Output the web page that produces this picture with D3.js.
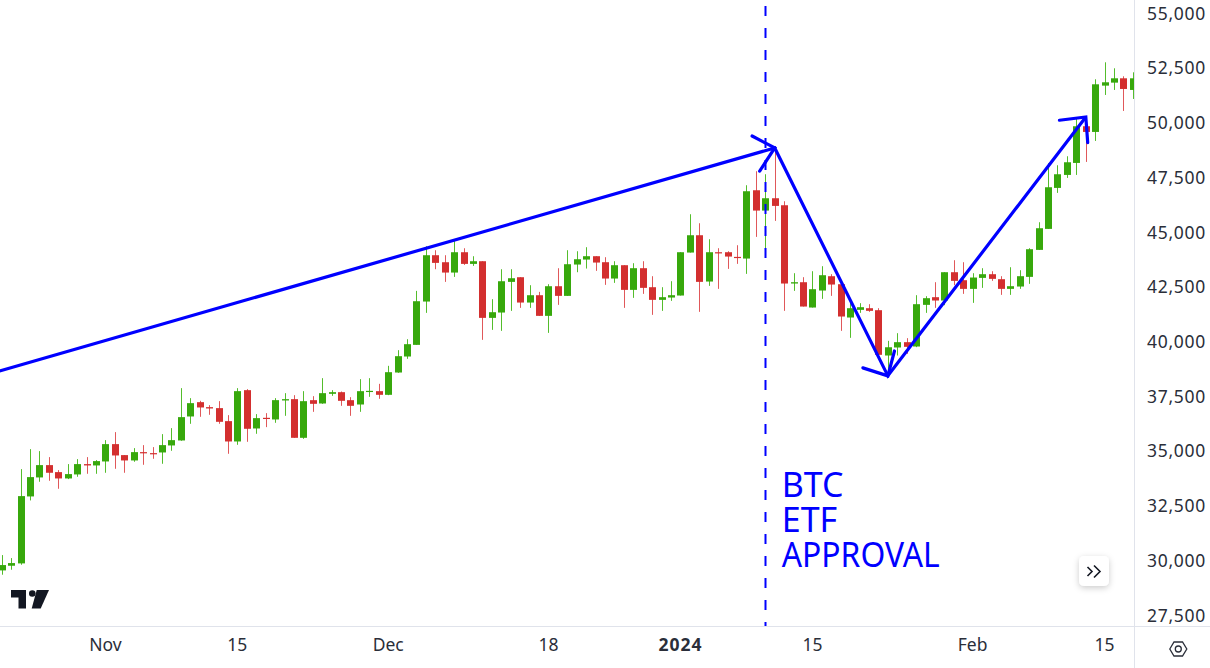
<!DOCTYPE html>
<html>
<head>
<meta charset="utf-8">
<script src="https://cdn.jsdelivr.net/npm/d3@7"></script>
<style>
  html, body { margin: 0; padding: 0; background: #fff; overflow: hidden; }
  svg { display: block; }
  .tick text { font-family: "Noto Sans", sans-serif; fill: #2a2e39; }
</style>
</head>
<body>
<svg id="chart" width="1210" height="668"></svg>
<script>
// daily BTCUSD candles, first bar is 21 Oct 2023
const opens = [29537,29750,29857,32916,33784,34347,34027,33738,33921,34393,34332,34514,35306,34804,34560,34940,34895,34925,35245,35473,36569,37223,36995,36950,36356,35427,37771,36021,36508,36432,37300,
  37360,35594,37314,37162,37603,37679,37314,37116,37695,37725,37558,38577,39308,39840,41819,43935,43615,43143,44072,43539,43661,41073,41317,42717,42930,41773,42108,41165,42519,42078,43509,
  43737,43890,43616,42870,43479,42352,43342,42474,41896,42002,42094,44057,44848,42733,44072,44072,43859,43783,46903,45975,46538,46218,42642,42702,41546,42322,42976,42611,41089,
  41439,41515,41424,39354,39720,39963,39765,41668,42018,41866,43159,42794,42398,42900,43068,42840,42398,42505,42946,44179,45138,47010,47603,48151,49826,49567,51682,51819,52017,51485];
const highs = [30237,30100,34164,35077,34986,34712,34119,34393,34621,34712,34575,35488,35854,34804,35123,35260,35169,35762,36036,37863,37406,37284,37086,37269,36630,37863,37817,36676,36721,37406,37634,
  37542,37725,37497,38319,37771,37710,37451,38273,38319,38060,38882,39597,40099,42306,44346,44163,43935,44665,44254,43889,43661,41926,43295,43295,42930,42565,42260,42611,43341,44163,44117,
  44301,43890,43844,43661,43479,43570,43661,42976,42474,42748,44072,45807,45396,44666,44255,44118,44392,47132,47771,47634,48897,46401,43113,42931,43205,43433,43068,42763,41972,
  41744,41698,41515,40024,40374,40146,42109,42063,42703,43159,43707,43616,43113,43342,43205,42977,43387,43250,44255,45442,48136,48045,48456,50191,49826,51972,52748,52474,52109,52291];
const lows = [29340,29568,29796,32734,33586,33631,33266,33708,33814,33951,33951,33997,34179,33997,34499,34362,34636,34408,35001,35458,36234,36554,36645,36234,34864,35275,35412,35778,36082,36280,36599,
  35594,35548,36781,37147,37512,37055,36599,36781,37466,37375,37542,38562,39201,39840,41302,43295,42717,42945,43493,43448,40069,40525,40480,41393,41530,41530,41165,40388,41667,42078,43158,
  43326,43220,42581,42672,41530,41987,42170,41211,41393,41850,42094,44057,41348,42535,42398,43311,43540,43083,44772,44209,45503,41394,42307,41591,41546,41941,42078,40480,40161,
  41302,41348,39385,38380,39354,39430,39735,41302,41531,41652,42566,42170,41759,42444,42764,42124,42124,42398,42627,44179,45138,46782,47466,47603,48197,49156,51256,51485,50526,51074];
const closes = [29781,29872,32931,33799,34347,33997,33738,33936,34393,34332,34530,35306,34788,34560,34940,34910,34864,35260,35488,36539,37178,36980,36934,36325,35427,37726,36006,36493,36478,37315,37360,
  35594,37268,37147,37634,37679,37284,37055,37725,37740,37558,38592,39323,39871,41834,43935,43585,43143,44072,43539,43661,41073,41332,42747,42884,41773,42108,41165,42519,42078,43524,43752,
  43890,43600,42870,43479,42352,43342,42444,41896,42018,42109,44072,44848,42718,44072,44042,43874,43829,46858,45975,46538,46188,42642,42702,41591,42383,43022,42596,41135,41515,
  41561,41394,39385,39731,39963,39750,41698,41972,41866,43159,42764,42398,42916,43068,42855,42398,42520,42977,44209,45168,47040,47634,48182,49826,49567,51743,51835,52017,51530,52017];

const priceTicks = [27500,30000,32500,35000,37500,40000,42500,45000,47500,50000,52500,55000];
const dayTicks = [11,25,41,58,72,86,103,117];
const dayLabels = ['Nov','15','Dec','18','2024','15','Feb','15'];

// hand drawn trend path, bar number and price
const trendDays = [-1,81.9,93.9,114.9];
const trendPrices = [38565,48836,38425,50251];
// arrow heads, one [start, tip, end] per turning point
const headDays = [[79.5,81.9,80.3],[91.25,93.9,94.6],[112.1,114.9,115.1]];
const headPrices = [[49380,48836,47780],[38790,38425,39560],[50100,50251,49080]];
const approvalDay = 81;
const noteLines = ['BTC','ETF','APPROVAL'];

const width = 1210, height = 668;
const plotRight = 1134, plotBottom = 626;
const blue = '#0000ff', green = '#37a80c', red = '#d32f2f';

const svg = d3.select('#chart');

const x = d3.scaleLinear().domain([0,120]).range([2.7,1133.9]);
const y = d3.scaleLinear().domain([27500,55000]).range([615,13]);

svg.append('defs').append('clipPath').attr('id','plot')
  .append('rect').attr('width',plotRight).attr('height',plotBottom);
const shadow = svg.select('defs').append('filter').attr('id','btnShadow')
  .attr('x','-30%').attr('y','-30%').attr('width','160%').attr('height','170%');
shadow.append('feDropShadow').attr('dx',0).attr('dy',2).attr('stdDeviation',3)
  .attr('flood-color','#000').attr('flood-opacity',0.2);

const plot = svg.append('g').attr('clip-path','url(#plot)');

// candles
const candles = plot.selectAll('g.candle')
  .data(opens.map((o,i) => ({i, o, h:highs[i], l:lows[i], c:closes[i]})))
  .join('g').attr('class','candle');

candles.append('line')
  .attr('x1',d => Math.round(x(d.i))-0.5).attr('x2',d => Math.round(x(d.i))-0.5)
  .attr('y1',d => y(d.h)).attr('y2',d => y(d.l))
  .attr('stroke',d => d.c >= d.o ? '#54bd2c' : '#e0585a')
  .attr('stroke-width',1);

candles.append('rect')
  .attr('x',d => Math.round(x(d.i))-4)
  .attr('width',7)
  .attr('y',d => y(Math.max(d.o,d.c)))
  .attr('height',d => Math.max(1.2, Math.abs(y(d.o)-y(d.c))))
  .attr('fill',d => d.c >= d.o ? green : red);

// ETF approval marker
plot.append('line')
  .attr('x1',Math.round(x(approvalDay))-0.5).attr('x2',Math.round(x(approvalDay))-0.5)
  .attr('y1',0).attr('y2',plotBottom)
  .attr('stroke',blue).attr('stroke-width',2)
  .attr('stroke-dasharray','10 12').attr('stroke-dashoffset',-6);

// trend path and arrow heads
const line = d3.line().x(d => x(d[0])).y(d => y(d[1]));

plot.append('path')
  .attr('d',line(trendDays.map((d,i) => [d,trendPrices[i]])))
  .attr('fill','none').attr('stroke',blue).attr('stroke-width',3.2)
  .attr('stroke-linejoin','miter');

plot.selectAll('path.head')
  .data(headDays.map((days,i) => days.map((d,j) => [d,headPrices[i][j]])))
  .join('path').attr('class','head')
  .attr('d',line)
  .attr('fill','none').attr('stroke',blue).attr('stroke-width',3.2)
  .attr('stroke-linecap','round');

// APPROVAL runs narrower in the original font
plot.append('g').selectAll('text')
  .data(noteLines)
  .join('text')
  .attr('x',x(approvalDay)+15.5)
  .attr('y',(d,i) => 496.5+i*35)
  .attr('fill',blue)
  .attr('font-family','"Noto Sans", sans-serif')
  .attr('font-size',34)
  .attr('textLength',d => d === 'APPROVAL' ? 158 : null)
  .attr('lengthAdjust','spacingAndGlyphs')
  .text(d => d);

// axes
const yAxis = d3.axisRight(y).tickValues(priceTicks).tickSize(0).tickPadding(13)
  .tickFormat(d3.format(','));
const yG = svg.append('g').attr('transform',`translate(${plotRight},0.5)`).call(yAxis);
yG.select('.domain').remove();
yG.selectAll('text').attr('font-size',17.5).style('letter-spacing','0.7px');

const xAxis = d3.axisBottom(x).tickValues(dayTicks).tickSize(0).tickPadding(13)
  .tickFormat((d,i) => dayLabels[i]);
const xG = svg.append('g').attr('transform',`translate(-1.5,${plotBottom})`).call(xAxis);
xG.select('.domain').remove();
xG.selectAll('text').attr('font-size',17.5)
  .attr('font-weight',d => d === 72 ? 700 : 400)
  .style('letter-spacing',d => d === 72 ? '1px' : null);

// chart frame
svg.append('line').attr('x1',0).attr('x2',width).attr('y1',plotBottom+0.5).attr('y2',plotBottom+0.5)
  .attr('stroke','#e0e3eb');
svg.append('line').attr('x1',plotRight+0.5).attr('x2',plotRight+0.5).attr('y1',0).attr('y2',height)
  .attr('stroke','#e0e3eb');

// TradingView logo
const logo = svg.append('g').attr('fill','#131722');
logo.append('path').attr('d','M11 590H26V608.5H18.5V597.5H11Z');
logo.append('circle').attr('cx',32.3).attr('cy',593.5).attr('r',3.3);
logo.append('path').attr('d','M36.7 590H49L40.7 608.5H31.7Z');

// scroll to latest button
svg.append('rect').attr('x',1079).attr('y',556).attr('width',30).attr('height',30).attr('rx',5)
  .attr('fill','#fff').attr('filter','url(#btnShadow)');
svg.append('path').attr('d','M1087.5 567L1092 571.5L1087.5 576M1094 565.5L1100 571.5L1094 577.5')
  .attr('fill','none').attr('stroke','#131722').attr('stroke-width',1.6);

// settings icon
const cog = d3.path();
[[1169.8,649],[1174,642],[1182.5,642],[1186.8,649],[1182.5,656],[1174,656]].forEach((p,i) => {
  if (i === 0) cog.moveTo(p[0],p[1]); else cog.lineTo(p[0],p[1]);
});
cog.closePath();
svg.append('path').attr('d',cog.toString()).attr('fill','none').attr('stroke','#2a2e39').attr('stroke-width',1.3);
svg.append('circle').attr('cx',1178.3).attr('cy',649).attr('r',3)
  .attr('fill','none').attr('stroke','#2a2e39').attr('stroke-width',1.3);
</script>
</body>
</html>
